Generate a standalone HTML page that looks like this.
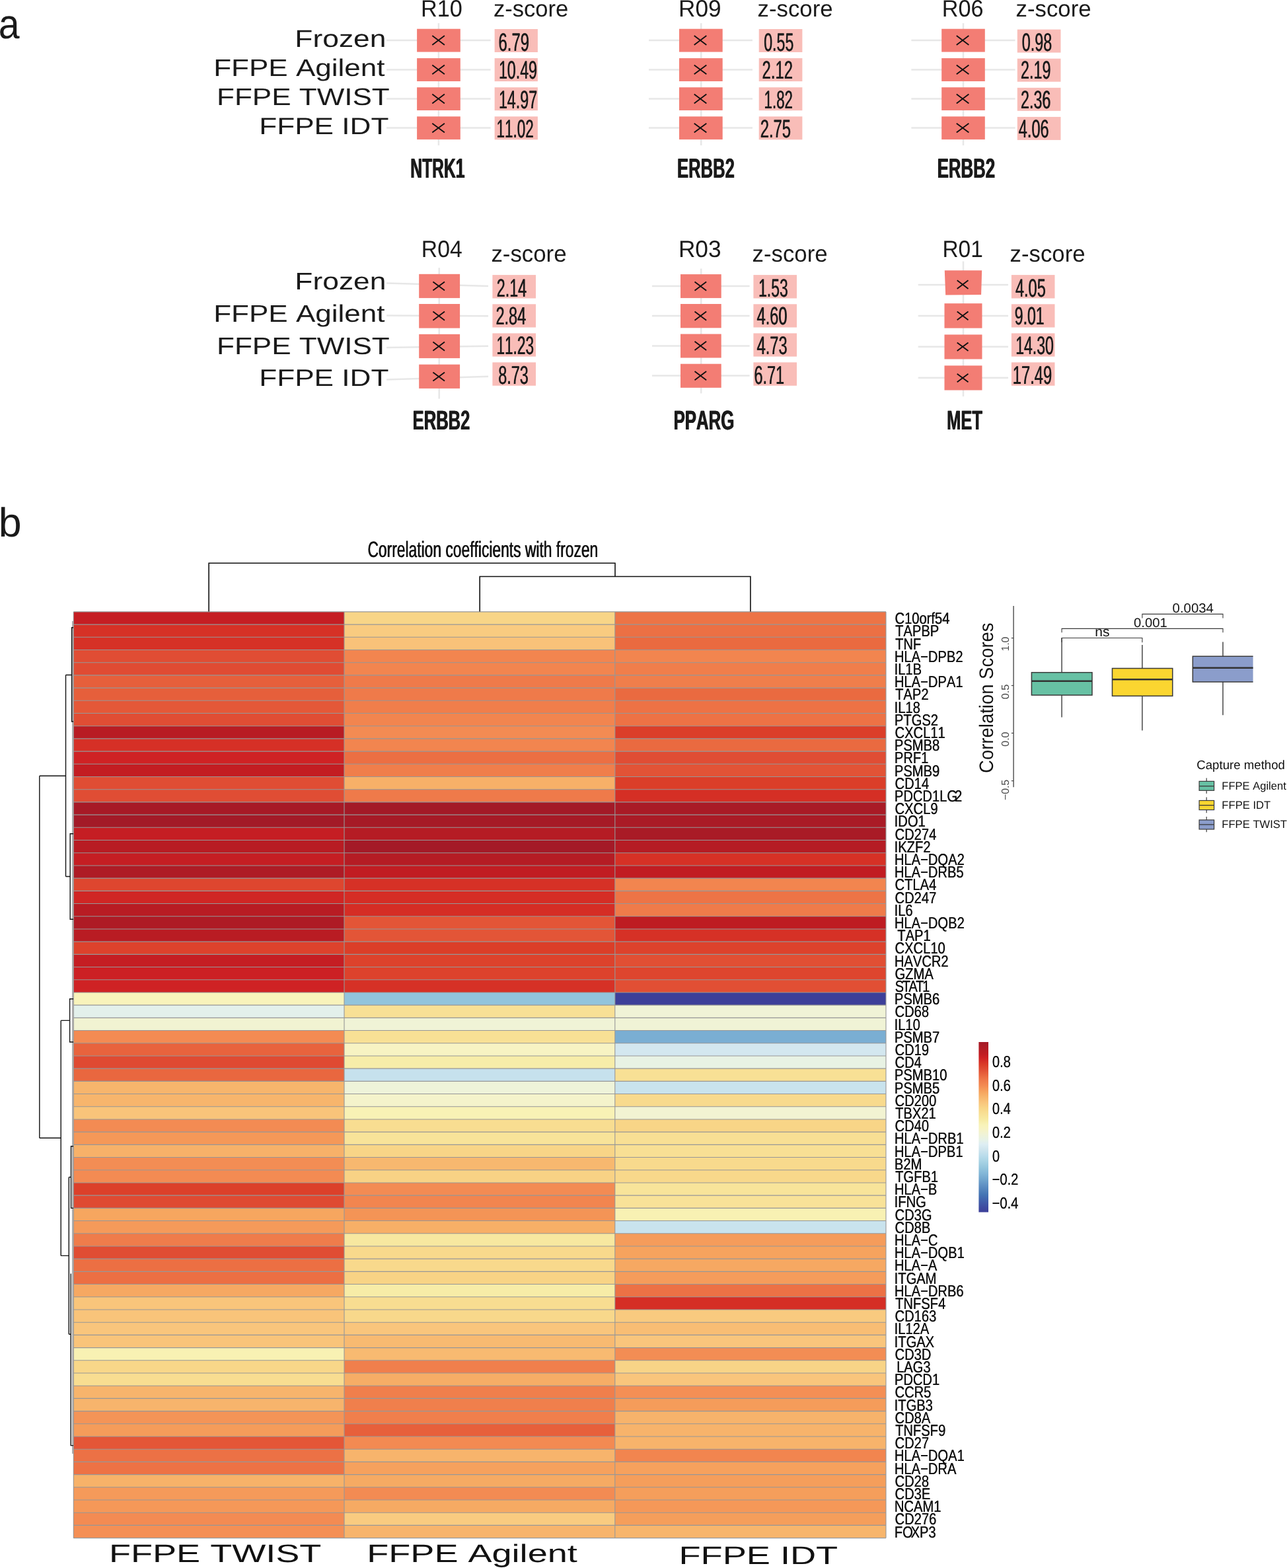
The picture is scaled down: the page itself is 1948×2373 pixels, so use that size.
<!DOCTYPE html>
<html lang="en">
<head>
<meta charset="utf-8">
<title>Figure: z-scores and correlation coefficients with frozen</title>
<style>
html,body{margin:0;padding:0;background:#fff;}
body{width:1948px;height:2373px;overflow:hidden;font-family:"Liberation Sans",Arial,sans-serif;}
svg{display:block;}
svg text{font-family:"Liberation Sans",Arial,sans-serif;font-kerning:none;font-variant-ligatures:none;text-rendering:geometricPrecision;}
</style>
</head>
<body>
<svg width="1948" height="2373" viewBox="0 0 1948 2373">
<rect x="0" y="0" width="1948" height="2373" fill="#ffffff"/>
<g id="panel-a">
<text transform="translate(-2.13,58.30) scale(0.5723,0.6263)" font-size="100" fill="#1a1a1a">a</text>
<text transform="translate(446.36,71.10) scale(0.4438,0.3663)" font-size="100" fill="#1a1a1a">Frozen</text>
<text transform="translate(323.19,114.70) scale(0.4402,0.3648)" font-size="100" fill="#1a1a1a">FFPE Agilent</text>
<text transform="translate(327.99,159.30) scale(0.4403,0.3648)" font-size="100" fill="#1a1a1a">FFPE TWIST</text>
<text transform="translate(392.28,202.80) scale(0.4411,0.3561)" font-size="100" fill="#1a1a1a">FFPE IDT</text>
<text transform="translate(446.36,438.40) scale(0.4438,0.3619)" font-size="100" fill="#1a1a1a">Frozen</text>
<text transform="translate(323.19,487.30) scale(0.4402,0.3648)" font-size="100" fill="#1a1a1a">FFPE Agilent</text>
<text transform="translate(327.99,535.60) scale(0.4403,0.3634)" font-size="100" fill="#1a1a1a">FFPE TWIST</text>
<text transform="translate(392.28,584.00) scale(0.4411,0.3590)" font-size="100" fill="#1a1a1a">FFPE IDT</text>
<line x1="585.1" y1="61.0" x2="742.6" y2="61.0" stroke="#e7e7e7" stroke-width="2.5"/>
<line x1="585.1" y1="105.4" x2="742.6" y2="105.4" stroke="#e7e7e7" stroke-width="2.5"/>
<line x1="585.1" y1="149.5" x2="742.6" y2="149.5" stroke="#e7e7e7" stroke-width="2.5"/>
<line x1="585.1" y1="193.6" x2="742.6" y2="193.6" stroke="#e7e7e7" stroke-width="2.5"/>
<line x1="663.9" y1="35.1" x2="663.9" y2="220.0" stroke="#e7e7e7" stroke-width="2.5"/>
<rect x="631.1" y="43.7" width="65.7" height="34.9" fill="#f37d74"/>
<rect x="631.1" y="88.1" width="65.7" height="34.9" fill="#f37d74"/>
<rect x="631.1" y="132.2" width="65.7" height="34.8" fill="#f37d74"/>
<rect x="631.1" y="176.3" width="65.7" height="34.8" fill="#f37d74"/>
<path d="M654.3 54.1L672.9 67.9M654.3 67.9L672.9 54.1" stroke="#111" stroke-width="1.9" fill="none"/>
<path d="M654.3 98.5L672.9 112.3M654.3 112.3L672.9 98.5" stroke="#111" stroke-width="1.9" fill="none"/>
<path d="M654.3 142.6L672.9 156.4M654.3 156.4L672.9 142.6" stroke="#111" stroke-width="1.9" fill="none"/>
<path d="M654.3 186.7L672.9 200.5M654.3 200.5L672.9 186.7" stroke="#111" stroke-width="1.9" fill="none"/>
<rect x="748.6" y="44.0" width="65.3" height="35.0" fill="#f9bdb8"/>
<text id="t1" transform="translate(754.29,77.10) scale(0.2383,0.3838)" font-size="100" fill="#1c1c1c">6.79</text><use href="#t1" x="0.55"/>
<rect x="748.6" y="88.1" width="65.3" height="35.0" fill="#f9bdb8"/>
<text id="t2" transform="translate(754.63,118.80) scale(0.2322,0.3838)" font-size="100" fill="#1c1c1c">10.49</text><use href="#t2" x="0.55"/>
<rect x="748.6" y="132.2" width="65.3" height="35.0" fill="#f9bdb8"/>
<text id="t3" transform="translate(754.63,163.80) scale(0.2325,0.3838)" font-size="100" fill="#1c1c1c">14.97</text><use href="#t3" x="0.55"/>
<rect x="748.6" y="176.3" width="65.3" height="35.0" fill="#f9bdb8"/>
<text id="t4" transform="translate(751.19,207.80) scale(0.2245,0.3838)" font-size="100" fill="#1c1c1c">11.02</text><use href="#t4" x="0.55"/>
<text transform="translate(636.88,25.10) scale(0.3432,0.3576)" font-size="100" fill="#1a1a1a">R10</text>
<text transform="translate(746.90,25.10) scale(0.3457,0.3502)" font-size="100" fill="#1a1a1a">z-score</text>
<text id="t5" transform="translate(620.85,269.20) scale(0.2464,0.4186)" font-size="100" font-weight="bold" fill="#1a1a1a">NTRK1</text><use href="#t5" x="0.90"/>
<line x1="982.0" y1="61.0" x2="1139.0" y2="61.0" stroke="#e7e7e7" stroke-width="2.5"/>
<line x1="982.0" y1="105.4" x2="1139.0" y2="105.4" stroke="#e7e7e7" stroke-width="2.5"/>
<line x1="982.0" y1="149.5" x2="1139.0" y2="149.5" stroke="#e7e7e7" stroke-width="2.5"/>
<line x1="982.0" y1="193.6" x2="1139.0" y2="193.6" stroke="#e7e7e7" stroke-width="2.5"/>
<line x1="1061.2" y1="35.1" x2="1061.2" y2="220.0" stroke="#e7e7e7" stroke-width="2.5"/>
<rect x="1028.0" y="43.7" width="65.7" height="34.9" fill="#f37d74"/>
<rect x="1028.0" y="88.1" width="65.7" height="34.9" fill="#f37d74"/>
<rect x="1028.0" y="132.2" width="65.7" height="34.8" fill="#f37d74"/>
<rect x="1028.0" y="176.3" width="65.7" height="34.8" fill="#f37d74"/>
<path d="M1050.7 54.1L1069.3 67.9M1050.7 67.9L1069.3 54.1" stroke="#111" stroke-width="1.9" fill="none"/>
<path d="M1050.7 98.5L1069.3 112.3M1050.7 112.3L1069.3 98.5" stroke="#111" stroke-width="1.9" fill="none"/>
<path d="M1050.7 142.6L1069.3 156.4M1050.7 156.4L1069.3 142.6" stroke="#111" stroke-width="1.9" fill="none"/>
<path d="M1050.7 186.7L1069.3 200.5M1050.7 200.5L1069.3 186.7" stroke="#111" stroke-width="1.9" fill="none"/>
<rect x="1148.7" y="44.0" width="65.7" height="35.0" fill="#f9bdb8"/>
<text id="t6" transform="translate(1155.89,77.10) scale(0.2319,0.3838)" font-size="100" fill="#1c1c1c">0.55</text><use href="#t6" x="0.55"/>
<rect x="1148.7" y="88.1" width="65.7" height="35.0" fill="#f9bdb8"/>
<text id="t7" transform="translate(1153.30,118.80) scale(0.2387,0.3838)" font-size="100" fill="#1c1c1c">2.12</text><use href="#t7" x="0.55"/>
<rect x="1148.7" y="132.2" width="65.7" height="35.0" fill="#f9bdb8"/>
<text id="t8" transform="translate(1156.30,163.80) scale(0.2228,0.3838)" font-size="100" fill="#1c1c1c">1.82</text><use href="#t8" x="0.55"/>
<rect x="1148.7" y="176.3" width="65.7" height="35.0" fill="#f9bdb8"/>
<text id="t9" transform="translate(1150.40,207.80) scale(0.2381,0.3838)" font-size="100" fill="#1c1c1c">2.75</text><use href="#t9" x="0.55"/>
<text transform="translate(1027.11,25.10) scale(0.3519,0.3576)" font-size="100" fill="#1a1a1a">R09</text>
<text transform="translate(1146.59,25.10) scale(0.3476,0.3502)" font-size="100" fill="#1a1a1a">z-score</text>
<text id="t10" transform="translate(1024.59,269.20) scale(0.2562,0.4186)" font-size="100" font-weight="bold" fill="#1a1a1a">ERBB2</text><use href="#t10" x="0.90"/>
<line x1="1379.4" y1="61.0" x2="1536.6" y2="61.0" stroke="#e7e7e7" stroke-width="2.5"/>
<line x1="1379.4" y1="105.4" x2="1536.6" y2="105.4" stroke="#e7e7e7" stroke-width="2.5"/>
<line x1="1379.4" y1="149.5" x2="1536.6" y2="149.5" stroke="#e7e7e7" stroke-width="2.5"/>
<line x1="1379.4" y1="193.6" x2="1536.6" y2="193.6" stroke="#e7e7e7" stroke-width="2.5"/>
<line x1="1458.0" y1="35.1" x2="1458.0" y2="220.0" stroke="#e7e7e7" stroke-width="2.5"/>
<rect x="1425.2" y="43.7" width="65.6" height="34.9" fill="#f37d74"/>
<rect x="1425.2" y="88.1" width="65.6" height="34.9" fill="#f37d74"/>
<rect x="1425.2" y="132.2" width="65.6" height="34.8" fill="#f37d74"/>
<rect x="1425.2" y="176.3" width="65.6" height="34.8" fill="#f37d74"/>
<path d="M1447.8 54.1L1466.4 67.9M1447.8 67.9L1466.4 54.1" stroke="#111" stroke-width="1.9" fill="none"/>
<path d="M1447.8 98.5L1466.4 112.3M1447.8 112.3L1466.4 98.5" stroke="#111" stroke-width="1.9" fill="none"/>
<path d="M1447.8 142.6L1466.4 156.4M1447.8 156.4L1466.4 142.6" stroke="#111" stroke-width="1.9" fill="none"/>
<path d="M1447.8 186.7L1466.4 200.5M1447.8 200.5L1466.4 186.7" stroke="#111" stroke-width="1.9" fill="none"/>
<rect x="1539.8" y="44.6" width="65.7" height="35.0" fill="#f9bdb8"/>
<text id="t11" transform="translate(1546.39,77.10) scale(0.2337,0.3838)" font-size="100" fill="#1c1c1c">0.98</text><use href="#t11" x="0.55"/>
<rect x="1539.8" y="88.7" width="65.7" height="35.0" fill="#f9bdb8"/>
<text id="t12" transform="translate(1544.73,118.80) scale(0.2334,0.3838)" font-size="100" fill="#1c1c1c">2.19</text><use href="#t12" x="0.55"/>
<rect x="1539.8" y="132.8" width="65.7" height="35.0" fill="#f9bdb8"/>
<text id="t13" transform="translate(1544.73,163.80) scale(0.2330,0.3838)" font-size="100" fill="#1c1c1c">2.36</text><use href="#t13" x="0.55"/>
<rect x="1539.8" y="176.9" width="65.7" height="35.0" fill="#f9bdb8"/>
<text id="t14" transform="translate(1541.56,207.80) scale(0.2349,0.3838)" font-size="100" fill="#1c1c1c">4.06</text><use href="#t14" x="0.55"/>
<text transform="translate(1425.69,25.10) scale(0.3424,0.3576)" font-size="100" fill="#1a1a1a">R06</text>
<text transform="translate(1537.59,25.10) scale(0.3476,0.3502)" font-size="100" fill="#1a1a1a">z-score</text>
<text id="t15" transform="translate(1418.28,269.20) scale(0.2577,0.4186)" font-size="100" font-weight="bold" fill="#1a1a1a">ERBB2</text><use href="#t15" x="0.90"/>
<line x1="585.1" y1="428.5" x2="739.0" y2="433.0" stroke="#e7e7e7" stroke-width="2.5"/>
<line x1="585.1" y1="477.4" x2="739.0" y2="478.2" stroke="#e7e7e7" stroke-width="2.5"/>
<line x1="585.1" y1="526.1" x2="739.0" y2="523.7" stroke="#e7e7e7" stroke-width="2.5"/>
<line x1="585.1" y1="574.5" x2="739.0" y2="569.8" stroke="#e7e7e7" stroke-width="2.5"/>
<line x1="664.7" y1="405.3" x2="664.7" y2="603.5" stroke="#e7e7e7" stroke-width="2.5"/>
<rect x="634.2" y="414.8" width="61.9" height="36.3" fill="#f37d74"/>
<rect x="634.2" y="460.0" width="61.9" height="36.6" fill="#f37d74"/>
<rect x="634.2" y="505.8" width="61.9" height="36.3" fill="#f37d74"/>
<rect x="634.2" y="551.6" width="61.9" height="36.3" fill="#f37d74"/>
<path d="M655.4 426.4L673.0 439.6M655.4 439.6L673.0 426.4" stroke="#111" stroke-width="1.9" fill="none"/>
<path d="M655.4 471.6L673.0 484.8M655.4 484.8L673.0 471.6" stroke="#111" stroke-width="1.9" fill="none"/>
<path d="M655.4 517.6L673.0 530.8M655.4 530.8L673.0 517.6" stroke="#111" stroke-width="1.9" fill="none"/>
<path d="M655.4 563.4L673.0 576.6M655.4 576.6L673.0 563.4" stroke="#111" stroke-width="1.9" fill="none"/>
<rect x="745.4" y="416.1" width="65.6" height="35.4" fill="#f9bdb8"/>
<text id="t16" transform="translate(751.43,449.40) scale(0.2333,0.3838)" font-size="100" fill="#1c1c1c">2.14</text><use href="#t16" x="0.55"/>
<rect x="745.4" y="460.3" width="65.6" height="35.2" fill="#f9bdb8"/>
<text id="t17" transform="translate(750.22,490.80) scale(0.2349,0.3795)" font-size="100" fill="#1c1c1c">2.84</text><use href="#t17" x="0.55"/>
<rect x="745.4" y="504.4" width="65.6" height="35.2" fill="#f9bdb8"/>
<text id="t18" transform="translate(751.18,536.30) scale(0.2260,0.3867)" font-size="100" fill="#1c1c1c">11.23</text><use href="#t18" x="0.55"/>
<rect x="745.4" y="548.4" width="65.6" height="35.3" fill="#f9bdb8"/>
<text id="t19" transform="translate(753.88,580.60) scale(0.2343,0.3895)" font-size="100" fill="#1c1c1c">8.73</text><use href="#t19" x="0.55"/>
<text transform="translate(637.83,388.90) scale(0.3372,0.3561)" font-size="100" fill="#1a1a1a">R04</text>
<text transform="translate(743.39,396.10) scale(0.3482,0.3521)" font-size="100" fill="#1a1a1a">z-score</text>
<text id="t20" transform="translate(624.19,650.40) scale(0.2559,0.4099)" font-size="100" font-weight="bold" fill="#1a1a1a">ERBB2</text><use href="#t20" x="0.90"/>
<line x1="986.9" y1="433.0" x2="1134.6" y2="433.0" stroke="#e7e7e7" stroke-width="2.5"/>
<line x1="986.9" y1="477.9" x2="1134.6" y2="477.9" stroke="#e7e7e7" stroke-width="2.5"/>
<line x1="986.9" y1="523.4" x2="1134.6" y2="523.4" stroke="#e7e7e7" stroke-width="2.5"/>
<line x1="986.9" y1="568.6" x2="1134.6" y2="568.6" stroke="#e7e7e7" stroke-width="2.5"/>
<line x1="1061.2" y1="406.5" x2="1061.2" y2="595.4" stroke="#e7e7e7" stroke-width="2.5"/>
<rect x="1030.0" y="415.1" width="61.7" height="36.0" fill="#f37d74"/>
<rect x="1030.0" y="460.0" width="61.7" height="36.3" fill="#f37d74"/>
<rect x="1030.0" y="505.5" width="61.7" height="36.0" fill="#f37d74"/>
<rect x="1030.0" y="550.7" width="61.7" height="36.1" fill="#f37d74"/>
<path d="M1051.5 426.6L1069.1 439.8M1051.5 439.8L1069.1 426.6" stroke="#111" stroke-width="1.9" fill="none"/>
<path d="M1051.5 471.6L1069.1 484.8M1051.5 484.8L1069.1 471.6" stroke="#111" stroke-width="1.9" fill="none"/>
<path d="M1051.5 516.8L1069.1 530.0M1051.5 530.0L1069.1 516.8" stroke="#111" stroke-width="1.9" fill="none"/>
<path d="M1051.5 562.0L1069.1 575.2M1051.5 575.2L1069.1 562.0" stroke="#111" stroke-width="1.9" fill="none"/>
<rect x="1140.4" y="416.1" width="65.6" height="35.4" fill="#f9bdb8"/>
<text id="t21" transform="translate(1147.86,449.40) scale(0.2286,0.3838)" font-size="100" fill="#1c1c1c">1.53</text><use href="#t21" x="0.55"/>
<rect x="1140.4" y="460.3" width="65.6" height="35.2" fill="#f9bdb8"/>
<text id="t22" transform="translate(1145.36,490.80) scale(0.2354,0.3795)" font-size="100" fill="#1c1c1c">4.60</text><use href="#t22" x="0.55"/>
<rect x="1140.4" y="504.4" width="65.6" height="35.2" fill="#f9bdb8"/>
<text id="t23" transform="translate(1145.36,536.30) scale(0.2360,0.3867)" font-size="100" fill="#1c1c1c">4.73</text><use href="#t23" x="0.55"/>
<rect x="1140.4" y="548.4" width="65.6" height="35.3" fill="#f9bdb8"/>
<text id="t24" transform="translate(1141.21,580.60) scale(0.2342,0.3895)" font-size="100" fill="#1c1c1c">6.71</text><use href="#t24" x="0.55"/>
<text transform="translate(1026.91,388.90) scale(0.3524,0.3561)" font-size="100" fill="#1a1a1a">R03</text>
<text transform="translate(1138.59,396.10) scale(0.3476,0.3521)" font-size="100" fill="#1a1a1a">z-score</text>
<text id="t25" transform="translate(1019.18,650.40) scale(0.2576,0.4099)" font-size="100" font-weight="bold" fill="#1a1a1a">PPARG</text><use href="#t25" x="0.90"/>
<line x1="1389.7" y1="430.9" x2="1526.0" y2="430.9" stroke="#e7e7e7" stroke-width="2.5"/>
<line x1="1389.7" y1="477.9" x2="1526.0" y2="477.9" stroke="#e7e7e7" stroke-width="2.5"/>
<line x1="1389.7" y1="524.8" x2="1526.0" y2="524.8" stroke="#e7e7e7" stroke-width="2.5"/>
<line x1="1389.7" y1="571.8" x2="1526.0" y2="571.8" stroke="#e7e7e7" stroke-width="2.5"/>
<line x1="1458.0" y1="395.5" x2="1458.0" y2="600.0" stroke="#e7e7e7" stroke-width="2.5"/>
<polygon points="1429.8,409.3 1486.2,409.3 1485.1,445.9 1431.2,446.5" fill="#f37d74"/>
<rect x="1429.5" y="459.2" width="57.0" height="37.4" fill="#f37d74"/>
<rect x="1429.5" y="506.4" width="57.0" height="37.1" fill="#f37d74"/>
<rect x="1429.5" y="553.3" width="57.0" height="37.2" fill="#f37d74"/>
<path d="M1448.7 424.3L1465.5 436.9M1448.7 436.9L1465.5 424.3" stroke="#111" stroke-width="1.9" fill="none"/>
<path d="M1448.7 471.6L1465.5 484.2M1448.7 484.2L1465.5 471.6" stroke="#111" stroke-width="1.9" fill="none"/>
<path d="M1448.7 518.5L1465.5 531.1M1448.7 531.1L1465.5 518.5" stroke="#111" stroke-width="1.9" fill="none"/>
<path d="M1448.7 565.7L1465.5 578.3M1448.7 578.3L1465.5 565.7" stroke="#111" stroke-width="1.9" fill="none"/>
<rect x="1530.9" y="416.1" width="65.6" height="35.4" fill="#f9bdb8"/>
<text id="t26" transform="translate(1536.66,449.40) scale(0.2357,0.3838)" font-size="100" fill="#1c1c1c">4.05</text><use href="#t26" x="0.55"/>
<rect x="1530.9" y="460.3" width="65.6" height="35.2" fill="#f9bdb8"/>
<text id="t27" transform="translate(1535.52,490.80) scale(0.2305,0.3795)" font-size="100" fill="#1c1c1c">9.01</text><use href="#t27" x="0.55"/>
<rect x="1530.9" y="504.4" width="65.6" height="35.2" fill="#f9bdb8"/>
<text id="t28" transform="translate(1536.95,536.30) scale(0.2302,0.3867)" font-size="100" fill="#1c1c1c">14.30</text><use href="#t28" x="0.55"/>
<rect x="1530.9" y="548.4" width="65.6" height="35.3" fill="#f9bdb8"/>
<text id="t29" transform="translate(1532.49,580.60) scale(0.2377,0.3895)" font-size="100" fill="#1c1c1c">17.49</text><use href="#t29" x="0.55"/>
<text transform="translate(1426.46,388.90) scale(0.3346,0.3561)" font-size="100" fill="#1a1a1a">R01</text>
<text transform="translate(1528.59,396.10) scale(0.3476,0.3521)" font-size="100" fill="#1a1a1a">z-score</text>
<text id="t30" transform="translate(1432.70,650.40) scale(0.2548,0.4099)" font-size="100" font-weight="bold" fill="#1a1a1a">MET</text><use href="#t30" x="0.90"/>
</g>
<g id="panel-b">
<text transform="translate(-2.24,811.90) scale(0.6271,0.6169)" font-size="100" fill="#1a1a1a">b</text>
<g id="heatmap" shape-rendering="crispEdges">
<rect x="111.3" y="925.90" width="409.7" height="19.25" fill="#c51e23"/>
<rect x="521.0" y="925.90" width="409.8" height="19.25" fill="#f8d587"/>
<rect x="930.8" y="925.90" width="410.2" height="19.25" fill="#ed7446"/>
<rect x="111.3" y="945.10" width="409.7" height="19.25" fill="#d63126"/>
<rect x="521.0" y="945.10" width="409.8" height="19.25" fill="#f9cb80"/>
<rect x="930.8" y="945.10" width="410.2" height="19.25" fill="#ec7044"/>
<rect x="111.3" y="964.30" width="409.7" height="19.25" fill="#d63126"/>
<rect x="521.0" y="964.30" width="409.8" height="19.25" fill="#f9c279"/>
<rect x="930.8" y="964.30" width="410.2" height="19.25" fill="#ea6a40"/>
<rect x="111.3" y="983.50" width="409.7" height="19.25" fill="#e04d34"/>
<rect x="521.0" y="983.50" width="409.8" height="19.25" fill="#f2854f"/>
<rect x="930.8" y="983.50" width="410.2" height="19.25" fill="#f2854f"/>
<rect x="111.3" y="1002.71" width="409.7" height="19.25" fill="#e04b33"/>
<rect x="521.0" y="1002.71" width="409.8" height="19.25" fill="#f2854f"/>
<rect x="930.8" y="1002.71" width="410.2" height="19.25" fill="#f07e4b"/>
<rect x="111.3" y="1021.91" width="409.7" height="19.25" fill="#e65f3b"/>
<rect x="521.0" y="1021.91" width="409.8" height="19.25" fill="#ef7a4a"/>
<rect x="930.8" y="1021.91" width="410.2" height="19.25" fill="#f07e4b"/>
<rect x="111.3" y="1041.11" width="409.7" height="19.25" fill="#e65f3b"/>
<rect x="521.0" y="1041.11" width="409.8" height="19.25" fill="#ef7a4a"/>
<rect x="930.8" y="1041.11" width="410.2" height="19.25" fill="#ea6a40"/>
<rect x="111.3" y="1060.31" width="409.7" height="19.25" fill="#e45838"/>
<rect x="521.0" y="1060.31" width="409.8" height="19.25" fill="#f07e4b"/>
<rect x="930.8" y="1060.31" width="410.2" height="19.25" fill="#ed7245"/>
<rect x="111.3" y="1079.51" width="409.7" height="19.25" fill="#e04d34"/>
<rect x="521.0" y="1079.51" width="409.8" height="19.25" fill="#f2854f"/>
<rect x="930.8" y="1079.51" width="410.2" height="19.25" fill="#ed7245"/>
<rect x="111.3" y="1098.71" width="409.7" height="19.25" fill="#b81c23"/>
<rect x="521.0" y="1098.71" width="409.8" height="19.25" fill="#f38b53"/>
<rect x="930.8" y="1098.71" width="410.2" height="19.25" fill="#db3e29"/>
<rect x="111.3" y="1117.91" width="409.7" height="19.25" fill="#d63026"/>
<rect x="521.0" y="1117.91" width="409.8" height="19.25" fill="#f2854f"/>
<rect x="930.8" y="1117.91" width="410.2" height="19.25" fill="#ea6a40"/>
<rect x="111.3" y="1137.12" width="409.7" height="19.25" fill="#cf2224"/>
<rect x="521.0" y="1137.12" width="409.8" height="19.25" fill="#ec6f43"/>
<rect x="930.8" y="1137.12" width="410.2" height="19.25" fill="#e04d34"/>
<rect x="111.3" y="1156.32" width="409.7" height="19.25" fill="#c31d22"/>
<rect x="521.0" y="1156.32" width="409.8" height="19.25" fill="#f07e4b"/>
<rect x="930.8" y="1156.32" width="410.2" height="19.25" fill="#e25336"/>
<rect x="111.3" y="1175.52" width="409.7" height="19.25" fill="#e04d34"/>
<rect x="521.0" y="1175.52" width="409.8" height="19.25" fill="#f7b068"/>
<rect x="930.8" y="1175.52" width="410.2" height="19.25" fill="#db3e29"/>
<rect x="111.3" y="1194.72" width="409.7" height="19.25" fill="#e04d34"/>
<rect x="521.0" y="1194.72" width="409.8" height="19.25" fill="#ef7a4a"/>
<rect x="930.8" y="1194.72" width="410.2" height="19.25" fill="#d52f25"/>
<rect x="111.3" y="1213.92" width="409.7" height="19.25" fill="#a71a26"/>
<rect x="521.0" y="1213.92" width="409.8" height="19.25" fill="#a31a27"/>
<rect x="930.8" y="1213.92" width="410.2" height="19.25" fill="#a91b26"/>
<rect x="111.3" y="1233.12" width="409.7" height="19.25" fill="#a31a27"/>
<rect x="521.0" y="1233.12" width="409.8" height="19.25" fill="#a61a26"/>
<rect x="930.8" y="1233.12" width="410.2" height="19.25" fill="#aa1b26"/>
<rect x="111.3" y="1252.32" width="409.7" height="19.25" fill="#c51e23"/>
<rect x="521.0" y="1252.32" width="409.8" height="19.25" fill="#b51c24"/>
<rect x="930.8" y="1252.32" width="410.2" height="19.25" fill="#a91b26"/>
<rect x="111.3" y="1271.53" width="409.7" height="19.25" fill="#b81c23"/>
<rect x="521.0" y="1271.53" width="409.8" height="19.25" fill="#a41a27"/>
<rect x="930.8" y="1271.53" width="410.2" height="19.25" fill="#b51c24"/>
<rect x="111.3" y="1290.73" width="409.7" height="19.25" fill="#c51e23"/>
<rect x="521.0" y="1290.73" width="409.8" height="19.25" fill="#b51c24"/>
<rect x="930.8" y="1290.73" width="410.2" height="19.25" fill="#d63126"/>
<rect x="111.3" y="1309.93" width="409.7" height="19.25" fill="#ae1b25"/>
<rect x="521.0" y="1309.93" width="409.8" height="19.25" fill="#c11c22"/>
<rect x="930.8" y="1309.93" width="410.2" height="19.25" fill="#c11c22"/>
<rect x="111.3" y="1329.13" width="409.7" height="19.25" fill="#de462f"/>
<rect x="521.0" y="1329.13" width="409.8" height="19.25" fill="#d63126"/>
<rect x="930.8" y="1329.13" width="410.2" height="19.25" fill="#f2854f"/>
<rect x="111.3" y="1348.33" width="409.7" height="19.25" fill="#d02624"/>
<rect x="521.0" y="1348.33" width="409.8" height="19.25" fill="#d52d25"/>
<rect x="930.8" y="1348.33" width="410.2" height="19.25" fill="#ed7446"/>
<rect x="111.3" y="1367.53" width="409.7" height="19.25" fill="#b81c23"/>
<rect x="521.0" y="1367.53" width="409.8" height="19.25" fill="#d52d25"/>
<rect x="930.8" y="1367.53" width="410.2" height="19.25" fill="#ef7b4a"/>
<rect x="111.3" y="1386.73" width="409.7" height="19.25" fill="#ae1b25"/>
<rect x="521.0" y="1386.73" width="409.8" height="19.25" fill="#e35537"/>
<rect x="930.8" y="1386.73" width="410.2" height="19.25" fill="#be1c22"/>
<rect x="111.3" y="1405.93" width="409.7" height="19.25" fill="#b91c23"/>
<rect x="521.0" y="1405.93" width="409.8" height="19.25" fill="#e35537"/>
<rect x="930.8" y="1405.93" width="410.2" height="19.25" fill="#d63126"/>
<rect x="111.3" y="1425.14" width="409.7" height="19.25" fill="#dd422c"/>
<rect x="521.0" y="1425.14" width="409.8" height="19.25" fill="#db3e28"/>
<rect x="930.8" y="1425.14" width="410.2" height="19.25" fill="#dd422c"/>
<rect x="111.3" y="1444.34" width="409.7" height="19.25" fill="#c51e23"/>
<rect x="521.0" y="1444.34" width="409.8" height="19.25" fill="#dd422c"/>
<rect x="930.8" y="1444.34" width="410.2" height="19.25" fill="#e14f34"/>
<rect x="111.3" y="1463.54" width="409.7" height="19.25" fill="#cc2024"/>
<rect x="521.0" y="1463.54" width="409.8" height="19.25" fill="#dd422c"/>
<rect x="930.8" y="1463.54" width="410.2" height="19.25" fill="#de452e"/>
<rect x="111.3" y="1482.74" width="409.7" height="19.25" fill="#cf2224"/>
<rect x="521.0" y="1482.74" width="409.8" height="19.25" fill="#d63126"/>
<rect x="930.8" y="1482.74" width="410.2" height="19.25" fill="#e14f34"/>
<rect x="111.3" y="1501.94" width="409.7" height="19.25" fill="#f8f3bb"/>
<rect x="521.0" y="1501.94" width="409.8" height="19.25" fill="#92c4dc"/>
<rect x="930.8" y="1501.94" width="410.2" height="19.25" fill="#3d3f99"/>
<rect x="111.3" y="1521.14" width="409.7" height="19.25" fill="#e3f0eb"/>
<rect x="521.0" y="1521.14" width="409.8" height="19.25" fill="#f8e095"/>
<rect x="930.8" y="1521.14" width="410.2" height="19.25" fill="#f0f3d6"/>
<rect x="111.3" y="1540.34" width="409.7" height="19.25" fill="#f1f3d2"/>
<rect x="521.0" y="1540.34" width="409.8" height="19.25" fill="#f0f3d6"/>
<rect x="930.8" y="1540.34" width="410.2" height="19.25" fill="#f0f3d6"/>
<rect x="111.3" y="1559.55" width="409.7" height="19.25" fill="#f38b53"/>
<rect x="521.0" y="1559.55" width="409.8" height="19.25" fill="#f8e095"/>
<rect x="930.8" y="1559.55" width="410.2" height="19.25" fill="#7aaed3"/>
<rect x="111.3" y="1578.75" width="409.7" height="19.25" fill="#e8633d"/>
<rect x="521.0" y="1578.75" width="409.8" height="19.25" fill="#f7f3c3"/>
<rect x="930.8" y="1578.75" width="410.2" height="19.25" fill="#d3e7ef"/>
<rect x="111.3" y="1597.95" width="409.7" height="19.25" fill="#df4a32"/>
<rect x="521.0" y="1597.95" width="409.8" height="19.25" fill="#f7eda9"/>
<rect x="930.8" y="1597.95" width="410.2" height="19.25" fill="#e8f2e4"/>
<rect x="111.3" y="1617.15" width="409.7" height="19.25" fill="#e9673f"/>
<rect x="521.0" y="1617.15" width="409.8" height="19.25" fill="#c6e1ed"/>
<rect x="930.8" y="1617.15" width="410.2" height="19.25" fill="#f8e095"/>
<rect x="111.3" y="1636.35" width="409.7" height="19.25" fill="#f7b56c"/>
<rect x="521.0" y="1636.35" width="409.8" height="19.25" fill="#eef3d9"/>
<rect x="930.8" y="1636.35" width="410.2" height="19.25" fill="#c9e3ed"/>
<rect x="111.3" y="1655.55" width="409.7" height="19.25" fill="#f7b56c"/>
<rect x="521.0" y="1655.55" width="409.8" height="19.25" fill="#f4f3cb"/>
<rect x="930.8" y="1655.55" width="410.2" height="19.25" fill="#f8da8d"/>
<rect x="111.3" y="1674.75" width="409.7" height="19.25" fill="#f9c47a"/>
<rect x="521.0" y="1674.75" width="409.8" height="19.25" fill="#f8f2b5"/>
<rect x="930.8" y="1674.75" width="410.2" height="19.25" fill="#f2f3d2"/>
<rect x="111.3" y="1693.96" width="409.7" height="19.25" fill="#f38b53"/>
<rect x="521.0" y="1693.96" width="409.8" height="19.25" fill="#f8dd91"/>
<rect x="930.8" y="1693.96" width="410.2" height="19.25" fill="#f8d587"/>
<rect x="111.3" y="1713.16" width="409.7" height="19.25" fill="#f59858"/>
<rect x="521.0" y="1713.16" width="409.8" height="19.25" fill="#f8e399"/>
<rect x="930.8" y="1713.16" width="410.2" height="19.25" fill="#f8df94"/>
<rect x="111.3" y="1732.36" width="409.7" height="19.25" fill="#f7b169"/>
<rect x="521.0" y="1732.36" width="409.8" height="19.25" fill="#f8d587"/>
<rect x="930.8" y="1732.36" width="410.2" height="19.25" fill="#f8df94"/>
<rect x="111.3" y="1751.56" width="409.7" height="19.25" fill="#f38d54"/>
<rect x="521.0" y="1751.56" width="409.8" height="19.25" fill="#f7b86f"/>
<rect x="930.8" y="1751.56" width="410.2" height="19.25" fill="#f8da8d"/>
<rect x="111.3" y="1770.76" width="409.7" height="19.25" fill="#f38b53"/>
<rect x="521.0" y="1770.76" width="409.8" height="19.25" fill="#f8d285"/>
<rect x="930.8" y="1770.76" width="410.2" height="19.25" fill="#f8d88b"/>
<rect x="111.3" y="1789.96" width="409.7" height="19.25" fill="#dc402a"/>
<rect x="521.0" y="1789.96" width="409.8" height="19.25" fill="#f38b53"/>
<rect x="930.8" y="1789.96" width="410.2" height="19.25" fill="#f8e49a"/>
<rect x="111.3" y="1809.16" width="409.7" height="19.25" fill="#df4a32"/>
<rect x="521.0" y="1809.16" width="409.8" height="19.25" fill="#f2854f"/>
<rect x="930.8" y="1809.16" width="410.2" height="19.25" fill="#f8e298"/>
<rect x="111.3" y="1828.37" width="409.7" height="19.25" fill="#f6a65f"/>
<rect x="521.0" y="1828.37" width="409.8" height="19.25" fill="#f49456"/>
<rect x="930.8" y="1828.37" width="410.2" height="19.25" fill="#f8f1b3"/>
<rect x="111.3" y="1847.57" width="409.7" height="19.25" fill="#f59a5a"/>
<rect x="521.0" y="1847.57" width="409.8" height="19.25" fill="#f7af67"/>
<rect x="930.8" y="1847.57" width="410.2" height="19.25" fill="#c9e3ed"/>
<rect x="111.3" y="1866.77" width="409.7" height="19.25" fill="#ef7c4b"/>
<rect x="521.0" y="1866.77" width="409.8" height="19.25" fill="#f7e8a0"/>
<rect x="930.8" y="1866.77" width="410.2" height="19.25" fill="#f59c5b"/>
<rect x="111.3" y="1885.97" width="409.7" height="19.25" fill="#e04d33"/>
<rect x="521.0" y="1885.97" width="409.8" height="19.25" fill="#f8d98c"/>
<rect x="930.8" y="1885.97" width="410.2" height="19.25" fill="#f6a35e"/>
<rect x="111.3" y="1905.17" width="409.7" height="19.25" fill="#ec6f43"/>
<rect x="521.0" y="1905.17" width="409.8" height="19.25" fill="#f8d98c"/>
<rect x="930.8" y="1905.17" width="410.2" height="19.25" fill="#f6a862"/>
<rect x="111.3" y="1924.37" width="409.7" height="19.25" fill="#ec6f43"/>
<rect x="521.0" y="1924.37" width="409.8" height="19.25" fill="#f8d385"/>
<rect x="930.8" y="1924.37" width="410.2" height="19.25" fill="#f59c5b"/>
<rect x="111.3" y="1943.57" width="409.7" height="19.25" fill="#f6a862"/>
<rect x="521.0" y="1943.57" width="409.8" height="19.25" fill="#f7eca7"/>
<rect x="930.8" y="1943.57" width="410.2" height="19.25" fill="#ec7145"/>
<rect x="111.3" y="1962.78" width="409.7" height="19.25" fill="#f9c57b"/>
<rect x="521.0" y="1962.78" width="409.8" height="19.25" fill="#f8dd91"/>
<rect x="930.8" y="1962.78" width="410.2" height="19.25" fill="#d52e25"/>
<rect x="111.3" y="1981.98" width="409.7" height="19.25" fill="#f9c47a"/>
<rect x="521.0" y="1981.98" width="409.8" height="19.25" fill="#f8d88b"/>
<rect x="930.8" y="1981.98" width="410.2" height="19.25" fill="#f9ca7f"/>
<rect x="111.3" y="2001.18" width="409.7" height="19.25" fill="#f9c57c"/>
<rect x="521.0" y="2001.18" width="409.8" height="19.25" fill="#f9c57c"/>
<rect x="930.8" y="2001.18" width="410.2" height="19.25" fill="#f8bd74"/>
<rect x="111.3" y="2020.38" width="409.7" height="19.25" fill="#f9c47a"/>
<rect x="521.0" y="2020.38" width="409.8" height="19.25" fill="#f8ba71"/>
<rect x="930.8" y="2020.38" width="410.2" height="19.25" fill="#f9c57c"/>
<rect x="111.3" y="2039.58" width="409.7" height="19.25" fill="#f8f1b3"/>
<rect x="521.0" y="2039.58" width="409.8" height="19.25" fill="#f8ba71"/>
<rect x="930.8" y="2039.58" width="410.2" height="19.25" fill="#f38d54"/>
<rect x="111.3" y="2058.78" width="409.7" height="19.25" fill="#f8d789"/>
<rect x="521.0" y="2058.78" width="409.8" height="19.25" fill="#f07f4c"/>
<rect x="930.8" y="2058.78" width="410.2" height="19.25" fill="#f8d487"/>
<rect x="111.3" y="2077.98" width="409.7" height="19.25" fill="#f8dd91"/>
<rect x="521.0" y="2077.98" width="409.8" height="19.25" fill="#f6ad66"/>
<rect x="930.8" y="2077.98" width="410.2" height="19.25" fill="#f9c57c"/>
<rect x="111.3" y="2097.19" width="409.7" height="19.25" fill="#f7b46c"/>
<rect x="521.0" y="2097.19" width="409.8" height="19.25" fill="#f07f4c"/>
<rect x="930.8" y="2097.19" width="410.2" height="19.25" fill="#f48f55"/>
<rect x="111.3" y="2116.39" width="409.7" height="19.25" fill="#f7b46c"/>
<rect x="521.0" y="2116.39" width="409.8" height="19.25" fill="#f07f4c"/>
<rect x="930.8" y="2116.39" width="410.2" height="19.25" fill="#f59c5a"/>
<rect x="111.3" y="2135.59" width="409.7" height="19.25" fill="#f49457"/>
<rect x="521.0" y="2135.59" width="409.8" height="19.25" fill="#f07f4c"/>
<rect x="930.8" y="2135.59" width="410.2" height="19.25" fill="#f7b36b"/>
<rect x="111.3" y="2154.79" width="409.7" height="19.25" fill="#f59c5a"/>
<rect x="521.0" y="2154.79" width="409.8" height="19.25" fill="#e7603b"/>
<rect x="930.8" y="2154.79" width="410.2" height="19.25" fill="#f7b36b"/>
<rect x="111.3" y="2173.99" width="409.7" height="19.25" fill="#e45637"/>
<rect x="521.0" y="2173.99" width="409.8" height="19.25" fill="#f38a52"/>
<rect x="930.8" y="2173.99" width="410.2" height="19.25" fill="#f7b36b"/>
<rect x="111.3" y="2193.19" width="409.7" height="19.25" fill="#ec7145"/>
<rect x="521.0" y="2193.19" width="409.8" height="19.25" fill="#f7b46c"/>
<rect x="930.8" y="2193.19" width="410.2" height="19.25" fill="#f2854f"/>
<rect x="111.3" y="2212.39" width="409.7" height="19.25" fill="#ed7245"/>
<rect x="521.0" y="2212.39" width="409.8" height="19.25" fill="#f6a15d"/>
<rect x="930.8" y="2212.39" width="410.2" height="19.25" fill="#f6a15d"/>
<rect x="111.3" y="2231.60" width="409.7" height="19.25" fill="#f7b269"/>
<rect x="521.0" y="2231.60" width="409.8" height="19.25" fill="#f6aa63"/>
<rect x="930.8" y="2231.60" width="410.2" height="19.25" fill="#f59e5b"/>
<rect x="111.3" y="2250.80" width="409.7" height="19.25" fill="#f59a5a"/>
<rect x="521.0" y="2250.80" width="409.8" height="19.25" fill="#f38b53"/>
<rect x="930.8" y="2250.80" width="410.2" height="19.25" fill="#f59e5b"/>
<rect x="111.3" y="2270.00" width="409.7" height="19.25" fill="#f59858"/>
<rect x="521.0" y="2270.00" width="409.8" height="19.25" fill="#f6aa63"/>
<rect x="930.8" y="2270.00" width="410.2" height="19.25" fill="#f59858"/>
<rect x="111.3" y="2289.20" width="409.7" height="19.25" fill="#f38b53"/>
<rect x="521.0" y="2289.20" width="409.8" height="19.25" fill="#f9cb80"/>
<rect x="930.8" y="2289.20" width="410.2" height="19.25" fill="#f59e5b"/>
<rect x="111.3" y="2308.40" width="409.7" height="19.25" fill="#f48f55"/>
<rect x="521.0" y="2308.40" width="409.8" height="19.25" fill="#f7b46c"/>
<rect x="930.8" y="2308.40" width="410.2" height="19.25" fill="#f7b56c"/>
</g>
<path d="M111.3 925.90H1341.0M111.3 945.10H1341.0M111.3 964.30H1341.0M111.3 983.50H1341.0M111.3 1002.71H1341.0M111.3 1021.91H1341.0M111.3 1041.11H1341.0M111.3 1060.31H1341.0M111.3 1079.51H1341.0M111.3 1098.71H1341.0M111.3 1117.91H1341.0M111.3 1137.12H1341.0M111.3 1156.32H1341.0M111.3 1175.52H1341.0M111.3 1194.72H1341.0M111.3 1213.92H1341.0M111.3 1233.12H1341.0M111.3 1252.32H1341.0M111.3 1271.53H1341.0M111.3 1290.73H1341.0M111.3 1309.93H1341.0M111.3 1329.13H1341.0M111.3 1348.33H1341.0M111.3 1367.53H1341.0M111.3 1386.73H1341.0M111.3 1405.93H1341.0M111.3 1425.14H1341.0M111.3 1444.34H1341.0M111.3 1463.54H1341.0M111.3 1482.74H1341.0M111.3 1501.94H1341.0M111.3 1521.14H1341.0M111.3 1540.34H1341.0M111.3 1559.55H1341.0M111.3 1578.75H1341.0M111.3 1597.95H1341.0M111.3 1617.15H1341.0M111.3 1636.35H1341.0M111.3 1655.55H1341.0M111.3 1674.75H1341.0M111.3 1693.96H1341.0M111.3 1713.16H1341.0M111.3 1732.36H1341.0M111.3 1751.56H1341.0M111.3 1770.76H1341.0M111.3 1789.96H1341.0M111.3 1809.16H1341.0M111.3 1828.37H1341.0M111.3 1847.57H1341.0M111.3 1866.77H1341.0M111.3 1885.97H1341.0M111.3 1905.17H1341.0M111.3 1924.37H1341.0M111.3 1943.57H1341.0M111.3 1962.78H1341.0M111.3 1981.98H1341.0M111.3 2001.18H1341.0M111.3 2020.38H1341.0M111.3 2039.58H1341.0M111.3 2058.78H1341.0M111.3 2077.98H1341.0M111.3 2097.19H1341.0M111.3 2116.39H1341.0M111.3 2135.59H1341.0M111.3 2154.79H1341.0M111.3 2173.99H1341.0M111.3 2193.19H1341.0M111.3 2212.39H1341.0M111.3 2231.60H1341.0M111.3 2250.80H1341.0M111.3 2270.00H1341.0M111.3 2289.20H1341.0M111.3 2308.40H1341.0M111.3 2327.60H1341.0M111.3 925.90V2327.60M521.0 925.90V2327.60M930.8 925.90V2327.60M1341.0 925.90V2327.60" stroke="#979797" stroke-width="1.1" fill="none"/>
<text id="t31" transform="translate(1354.33,944.10) scale(0.2017,0.2430)" font-size="100" fill="#111">C10orf54</text><use href="#t31" x="0.30"/>
<text id="t32" transform="translate(1354.90,963.30) scale(0.2017,0.2430)" font-size="100" fill="#111">TAPBP</text><use href="#t32" x="0.30"/>
<text id="t33" transform="translate(1354.90,982.50) scale(0.2017,0.2430)" font-size="100" fill="#111">TNF</text><use href="#t33" x="0.30"/>
<text id="t34" transform="translate(1353.70,1001.70) scale(0.2017,0.2430)" font-size="100" fill="#111">HLA−DPB2</text><use href="#t34" x="0.30"/>
<text id="t35" transform="translate(1353.49,1020.91) scale(0.2017,0.2430)" font-size="100" fill="#111">IL1B</text><use href="#t35" x="0.30"/>
<text id="t36" transform="translate(1353.70,1040.11) scale(0.2017,0.2430)" font-size="100" fill="#111">HLA−DPA1</text><use href="#t36" x="0.30"/>
<text id="t37" transform="translate(1354.90,1059.31) scale(0.2017,0.2430)" font-size="100" fill="#111">TAP2</text><use href="#t37" x="0.30"/>
<text id="t38" transform="translate(1353.49,1078.51) scale(0.2017,0.2430)" font-size="100" fill="#111">IL18</text><use href="#t38" x="0.30"/>
<text id="t39" transform="translate(1353.70,1097.71) scale(0.2017,0.2430)" font-size="100" fill="#111">PTGS2</text><use href="#t39" x="0.30"/>
<text id="t40" transform="translate(1354.33,1116.91) scale(0.2017,0.2430)" font-size="100" fill="#111">CXCL11</text><use href="#t40" x="0.30"/>
<text id="t41" transform="translate(1353.70,1136.11) scale(0.2017,0.2430)" font-size="100" fill="#111">PSMB8</text><use href="#t41" x="0.30"/>
<text id="t42" transform="translate(1353.70,1155.32) scale(0.2017,0.2430)" font-size="100" fill="#111">PRF1</text><use href="#t42" x="0.30"/>
<text id="t43" transform="translate(1353.70,1174.52) scale(0.2017,0.2430)" font-size="100" fill="#111">PSMB9</text><use href="#t43" x="0.30"/>
<text id="t44" transform="translate(1354.33,1193.72) scale(0.2017,0.2430)" font-size="100" fill="#111">CD14</text><use href="#t44" x="0.30"/>
<text id="t45" transform="translate(1353.70,1212.92) scale(0.2017,0.2430)" font-size="100" dx="0 0 0 0 0 0 0 -20.5" fill="#111">PDCD1LG2</text><use href="#t45" x="0.30"/>
<text id="t46" transform="translate(1354.33,1232.12) scale(0.2017,0.2430)" font-size="100" fill="#111">CXCL9</text><use href="#t46" x="0.30"/>
<text id="t47" transform="translate(1353.49,1251.32) scale(0.2017,0.2430)" font-size="100" fill="#111">IDO1</text><use href="#t47" x="0.30"/>
<text id="t48" transform="translate(1354.33,1270.52) scale(0.2017,0.2430)" font-size="100" fill="#111">CD274</text><use href="#t48" x="0.30"/>
<text id="t49" transform="translate(1353.49,1289.73) scale(0.2017,0.2430)" font-size="100" fill="#111">IKZF2</text><use href="#t49" x="0.30"/>
<text id="t50" transform="translate(1353.70,1308.93) scale(0.2017,0.2430)" font-size="100" fill="#111">HLA−DQA2</text><use href="#t50" x="0.30"/>
<text id="t51" transform="translate(1353.70,1328.13) scale(0.2017,0.2430)" font-size="100" fill="#111">HLA−DRB5</text><use href="#t51" x="0.30"/>
<text id="t52" transform="translate(1354.33,1347.33) scale(0.2017,0.2430)" font-size="100" fill="#111">CTLA4</text><use href="#t52" x="0.30"/>
<text id="t53" transform="translate(1354.33,1366.53) scale(0.2017,0.2430)" font-size="100" fill="#111">CD247</text><use href="#t53" x="0.30"/>
<text id="t54" transform="translate(1353.49,1385.73) scale(0.2017,0.2430)" font-size="100" fill="#111">IL6</text><use href="#t54" x="0.30"/>
<text id="t55" transform="translate(1353.70,1404.93) scale(0.2017,0.2430)" font-size="100" fill="#111">HLA−DQB2</text><use href="#t55" x="0.30"/>
<text id="t56" transform="translate(1358.10,1424.13) scale(0.2017,0.2430)" font-size="100" fill="#111">TAP1</text><use href="#t56" x="0.30"/>
<text id="t57" transform="translate(1354.33,1443.34) scale(0.2017,0.2430)" font-size="100" fill="#111">CXCL10</text><use href="#t57" x="0.30"/>
<text id="t58" transform="translate(1353.70,1462.54) scale(0.2017,0.2430)" font-size="100" fill="#111">HAVCR2</text><use href="#t58" x="0.30"/>
<text id="t59" transform="translate(1354.34,1481.74) scale(0.2017,0.2430)" font-size="100" fill="#111">GZMA</text><use href="#t59" x="0.30"/>
<text id="t60" transform="translate(1354.43,1500.94) scale(0.2017,0.2430)" font-size="100" dx="0 -12 -13 -13 -12" fill="#111">STAT1</text><use href="#t60" x="0.30"/>
<text id="t61" transform="translate(1353.70,1520.14) scale(0.2017,0.2430)" font-size="100" fill="#111">PSMB6</text><use href="#t61" x="0.30"/>
<text id="t62" transform="translate(1354.33,1539.34) scale(0.2017,0.2430)" font-size="100" fill="#111">CD68</text><use href="#t62" x="0.30"/>
<text id="t63" transform="translate(1353.49,1558.54) scale(0.2017,0.2430)" font-size="100" fill="#111">IL10</text><use href="#t63" x="0.30"/>
<text id="t64" transform="translate(1353.70,1577.75) scale(0.2017,0.2430)" font-size="100" fill="#111">PSMB7</text><use href="#t64" x="0.30"/>
<text id="t65" transform="translate(1354.33,1596.95) scale(0.2017,0.2430)" font-size="100" fill="#111">CD19</text><use href="#t65" x="0.30"/>
<text id="t66" transform="translate(1354.33,1616.15) scale(0.2017,0.2430)" font-size="100" fill="#111">CD4</text><use href="#t66" x="0.30"/>
<text id="t67" transform="translate(1353.70,1635.35) scale(0.2017,0.2430)" font-size="100" fill="#111">PSMB10</text><use href="#t67" x="0.30"/>
<text id="t68" transform="translate(1353.70,1654.55) scale(0.2017,0.2430)" font-size="100" fill="#111">PSMB5</text><use href="#t68" x="0.30"/>
<text id="t69" transform="translate(1354.33,1673.75) scale(0.2017,0.2430)" font-size="100" fill="#111">CD200</text><use href="#t69" x="0.30"/>
<text id="t70" transform="translate(1354.90,1692.95) scale(0.2017,0.2430)" font-size="100" fill="#111">TBX21</text><use href="#t70" x="0.30"/>
<text id="t71" transform="translate(1354.33,1712.16) scale(0.2017,0.2430)" font-size="100" fill="#111">CD40</text><use href="#t71" x="0.30"/>
<text id="t72" transform="translate(1353.70,1731.36) scale(0.2017,0.2430)" font-size="100" fill="#111">HLA−DRB1</text><use href="#t72" x="0.30"/>
<text id="t73" transform="translate(1353.70,1750.56) scale(0.2017,0.2430)" font-size="100" fill="#111">HLA−DPB1</text><use href="#t73" x="0.30"/>
<text id="t74" transform="translate(1353.70,1769.76) scale(0.2017,0.2430)" font-size="100" fill="#111">B2M</text><use href="#t74" x="0.30"/>
<text id="t75" transform="translate(1354.90,1788.96) scale(0.2017,0.2430)" font-size="100" fill="#111">TGFB1</text><use href="#t75" x="0.30"/>
<text id="t76" transform="translate(1353.70,1808.16) scale(0.2017,0.2430)" font-size="100" fill="#111">HLA−B</text><use href="#t76" x="0.30"/>
<text id="t77" transform="translate(1353.49,1827.36) scale(0.2017,0.2430)" font-size="100" fill="#111">IFNG</text><use href="#t77" x="0.30"/>
<text id="t78" transform="translate(1354.33,1846.57) scale(0.2017,0.2430)" font-size="100" fill="#111">CD3G</text><use href="#t78" x="0.30"/>
<text id="t79" transform="translate(1354.33,1865.77) scale(0.2017,0.2430)" font-size="100" fill="#111">CD8B</text><use href="#t79" x="0.30"/>
<text id="t80" transform="translate(1353.70,1884.97) scale(0.2017,0.2430)" font-size="100" fill="#111">HLA−C</text><use href="#t80" x="0.30"/>
<text id="t81" transform="translate(1353.70,1904.17) scale(0.2017,0.2430)" font-size="100" fill="#111">HLA−DQB1</text><use href="#t81" x="0.30"/>
<text id="t82" transform="translate(1353.70,1923.37) scale(0.2017,0.2430)" font-size="100" fill="#111">HLA−A</text><use href="#t82" x="0.30"/>
<text id="t83" transform="translate(1353.49,1942.57) scale(0.2017,0.2430)" font-size="100" fill="#111">ITGAM</text><use href="#t83" x="0.30"/>
<text id="t84" transform="translate(1353.70,1961.77) scale(0.2017,0.2430)" font-size="100" fill="#111">HLA−DRB6</text><use href="#t84" x="0.30"/>
<text id="t85" transform="translate(1354.90,1980.98) scale(0.2017,0.2430)" font-size="100" fill="#111">TNFSF4</text><use href="#t85" x="0.30"/>
<text id="t86" transform="translate(1354.33,2000.18) scale(0.2017,0.2430)" font-size="100" fill="#111">CD163</text><use href="#t86" x="0.30"/>
<text id="t87" transform="translate(1353.49,2019.38) scale(0.2017,0.2430)" font-size="100" fill="#111">IL12A</text><use href="#t87" x="0.30"/>
<text id="t88" transform="translate(1353.49,2038.58) scale(0.2017,0.2430)" font-size="100" fill="#111">ITGAX</text><use href="#t88" x="0.30"/>
<text id="t89" transform="translate(1354.33,2057.78) scale(0.2017,0.2430)" font-size="100" fill="#111">CD3D</text><use href="#t89" x="0.30"/>
<text id="t90" transform="translate(1356.90,2076.98) scale(0.2017,0.2430)" font-size="100" fill="#111">LAG3</text><use href="#t90" x="0.30"/>
<text id="t91" transform="translate(1353.70,2096.18) scale(0.2017,0.2430)" font-size="100" fill="#111">PDCD1</text><use href="#t91" x="0.30"/>
<text id="t92" transform="translate(1354.33,2115.39) scale(0.2017,0.2430)" font-size="100" fill="#111">CCR5</text><use href="#t92" x="0.30"/>
<text id="t93" transform="translate(1353.49,2134.59) scale(0.2017,0.2430)" font-size="100" fill="#111">ITGB3</text><use href="#t93" x="0.30"/>
<text id="t94" transform="translate(1354.33,2153.79) scale(0.2017,0.2430)" font-size="100" fill="#111">CD8A</text><use href="#t94" x="0.30"/>
<text id="t95" transform="translate(1354.90,2172.99) scale(0.2017,0.2430)" font-size="100" fill="#111">TNFSF9</text><use href="#t95" x="0.30"/>
<text id="t96" transform="translate(1354.33,2192.19) scale(0.2017,0.2430)" font-size="100" fill="#111">CD27</text><use href="#t96" x="0.30"/>
<text id="t97" transform="translate(1353.70,2211.39) scale(0.2017,0.2430)" font-size="100" fill="#111">HLA−DQA1</text><use href="#t97" x="0.30"/>
<text id="t98" transform="translate(1353.70,2230.59) scale(0.2017,0.2430)" font-size="100" fill="#111">HLA−DRA</text><use href="#t98" x="0.30"/>
<text id="t99" transform="translate(1354.33,2249.80) scale(0.2017,0.2430)" font-size="100" fill="#111">CD28</text><use href="#t99" x="0.30"/>
<text id="t100" transform="translate(1354.33,2269.00) scale(0.2017,0.2430)" font-size="100" fill="#111">CD3E</text><use href="#t100" x="0.30"/>
<text id="t101" transform="translate(1353.70,2288.20) scale(0.2017,0.2430)" font-size="100" fill="#111">NCAM1</text><use href="#t101" x="0.30"/>
<text id="t102" transform="translate(1354.33,2307.40) scale(0.2017,0.2430)" font-size="100" fill="#111">CD276</text><use href="#t102" x="0.30"/>
<text id="t103" transform="translate(1353.70,2326.60) scale(0.2017,0.2430)" font-size="100" dx="0 0 -16.4" fill="#111">FOXP3</text><use href="#t103" x="0.30"/>
<text id="t104" transform="translate(556.14,843.10) scale(0.2282,0.3366)" font-size="100" fill="#111">Correlation coefficients with frozen</text><use href="#t104" x="0.60"/>
<path d="M316.1 925.4V852.3H931.0V872.5M726.2 925.4V872.5H1135.9V925.4" stroke="#111" stroke-width="1.6" fill="none"/>
<text transform="translate(164.96,2363.70) scale(0.5407,0.3808)" font-size="100" fill="#111">FFPE TWIST</text>
<text transform="translate(555.26,2363.70) scale(0.5407,0.3808)" font-size="100" fill="#111">FFPE Agilent</text>
<text transform="translate(1027.46,2367.00) scale(0.5416,0.3823)" font-size="100" fill="#111">FFPE IDT</text>
<path d="M59.8 1174.3V1722.2M59.8 1174.3H99.5M99.5 1021.5V1326.5M99.5 1021.5H108.6M111 949.7H108.6V1092H111M99.5 1326.5H106.2M111 1261.8H106.2V1391.3H111M59.8 1722.2H92.2M92.2 1544.4V1900.4M92.2 1544.4H105.6M111 1511.7H105.6V1577H111M92.2 1900.4H104.3M104.3 1781.5V2019.3M104.3 1781.5H107.5M111 1734.8H107.5V1828.4H111M104.3 2019.3H107.2M107.2 1927.6V2187.6H111" stroke="#111" stroke-width="1.4" fill="none"/>
<path d="M109.9 940V2200" stroke="#222" stroke-width="1.1" fill="none" opacity="0.6"/>
<defs><linearGradient id="cb" x1="0" y1="1" x2="0" y2="0">
<stop offset="0.000" stop-color="#3d3f99"/>
<stop offset="0.027" stop-color="#3f4ba0"/>
<stop offset="0.052" stop-color="#4058a7"/>
<stop offset="0.078" stop-color="#4266ae"/>
<stop offset="0.104" stop-color="#4575b4"/>
<stop offset="0.130" stop-color="#5282bb"/>
<stop offset="0.162" stop-color="#6293c5"/>
<stop offset="0.194" stop-color="#72a6ce"/>
<stop offset="0.226" stop-color="#82b6d7"/>
<stop offset="0.258" stop-color="#92c4dc"/>
<stop offset="0.298" stop-color="#a8d3e4"/>
<stop offset="0.330" stop-color="#b9dceb"/>
<stop offset="0.368" stop-color="#cfe5ee"/>
<stop offset="0.400" stop-color="#deeef3"/>
<stop offset="0.426" stop-color="#e7f2e6"/>
<stop offset="0.458" stop-color="#f0f3d6"/>
<stop offset="0.490" stop-color="#f7f3c3"/>
<stop offset="0.514" stop-color="#f8f3b8"/>
<stop offset="0.546" stop-color="#f7eaa2"/>
<stop offset="0.578" stop-color="#f8e095"/>
<stop offset="0.610" stop-color="#f8d688"/>
<stop offset="0.643" stop-color="#f9c67c"/>
<stop offset="0.675" stop-color="#f7b66d"/>
<stop offset="0.707" stop-color="#f6a45e"/>
<stop offset="0.745" stop-color="#f38a52"/>
<stop offset="0.780" stop-color="#ee7748"/>
<stop offset="0.800" stop-color="#ea6940"/>
<stop offset="0.820" stop-color="#e55b39"/>
<stop offset="0.840" stop-color="#e04c33"/>
<stop offset="0.865" stop-color="#db3d28"/>
<stop offset="0.890" stop-color="#d42c25"/>
<stop offset="0.907" stop-color="#ce2124"/>
<stop offset="0.930" stop-color="#c01c22"/>
<stop offset="0.960" stop-color="#b41c24"/>
<stop offset="1.000" stop-color="#a31a27"/>
</linearGradient></defs>
<rect x="1481.4" y="1577.0" width="14.6" height="257.5" fill="url(#cb)"/>
<text id="t105" transform="translate(1501.66,1614.80) scale(0.2017,0.2430)" font-size="100" fill="#111">0.8</text><use href="#t105" x="0.30"/>
<text id="t106" transform="translate(1501.66,1650.60) scale(0.2017,0.2430)" font-size="100" fill="#111">0.6</text><use href="#t106" x="0.30"/>
<text id="t107" transform="translate(1501.66,1686.30) scale(0.2017,0.2430)" font-size="100" fill="#111">0.4</text><use href="#t107" x="0.30"/>
<text id="t108" transform="translate(1501.66,1722.00) scale(0.2017,0.2430)" font-size="100" fill="#111">0.2</text><use href="#t108" x="0.30"/>
<text id="t109" transform="translate(1501.66,1757.70) scale(0.2017,0.2430)" font-size="100" fill="#111">0</text><use href="#t109" x="0.30"/>
<text id="t110" transform="translate(1501.46,1793.40) scale(0.2017,0.2430)" font-size="100" fill="#111">−0.2</text><use href="#t110" x="0.30"/>
<text id="t111" transform="translate(1501.46,1829.10) scale(0.2017,0.2430)" font-size="100" fill="#111">−0.4</text><use href="#t111" x="0.30"/>
</g>
<g id="boxplot">
<line x1="1534.1" y1="916.9" x2="1534.1" y2="1191.3" stroke="#4a4a4a" stroke-width="1.4"/>
<line x1="1530.8" y1="965.6" x2="1534.1" y2="965.6" stroke="#4a4a4a" stroke-width="1.2"/>
<line x1="1530.8" y1="1037.5" x2="1534.1" y2="1037.5" stroke="#4a4a4a" stroke-width="1.2"/>
<line x1="1530.8" y1="1109.5" x2="1534.1" y2="1109.5" stroke="#4a4a4a" stroke-width="1.2"/>
<line x1="1530.8" y1="1181.7" x2="1534.1" y2="1181.7" stroke="#4a4a4a" stroke-width="1.2"/>
<text transform="translate(1526.70,985.60) rotate(-90) scale(0.1577,0.1604)" font-size="100" fill="#4d4d4d">1.0</text>
<text transform="translate(1526.70,1058.24) rotate(-90) scale(0.1627,0.1604)" font-size="100" fill="#4d4d4d">0.5</text>
<text transform="translate(1526.70,1129.72) rotate(-90) scale(0.1593,0.1604)" font-size="100" fill="#4d4d4d">0.0</text>
<text transform="translate(1526.70,1211.08) rotate(-90) scale(0.1583,0.1604)" font-size="100" fill="#4d4d4d">−0.5</text>
<text transform="translate(1503.10,1169.89) rotate(-90) scale(0.2747,0.2950)" font-size="100" fill="#111">Correlation Scores</text>
<line x1="1607.1" y1="965.5" x2="1607.1" y2="1085.5" stroke="#3a3a3a" stroke-width="1.4"/>
<line x1="1728.9" y1="976.0" x2="1728.9" y2="1105.6" stroke="#3a3a3a" stroke-width="1.4"/>
<line x1="1851.0" y1="971.4" x2="1851.0" y2="1082.2" stroke="#3a3a3a" stroke-width="1.4"/>
<rect x="1561.4" y="1017.7" width="91.6" height="34.3" fill="#67c1a4"/>
<rect x="1561.4" y="1017.7" width="91.6" height="34.3" fill="none" stroke="#3a3a3a" stroke-width="1.5"/>
<line x1="1561.4" y1="1030.8" x2="1653.0" y2="1030.8" stroke="#333" stroke-width="2.6"/>
<rect x="1683.5" y="1011.5" width="91.3" height="41.8" fill="#fbd630"/>
<rect x="1683.5" y="1011.5" width="91.3" height="41.8" fill="none" stroke="#3a3a3a" stroke-width="1.5"/>
<line x1="1683.5" y1="1028.2" x2="1774.8" y2="1028.2" stroke="#333" stroke-width="2.6"/>
<rect x="1805.3" y="993.2" width="91.3" height="38.7" fill="#8b9dcb"/>
<path d="M1896.6 993.2H1805.3V1031.9H1896.6" fill="none" stroke="#3a3a3a" stroke-width="1.5"/>
<line x1="1805.3" y1="1010.7" x2="1896.6" y2="1010.7" stroke="#333" stroke-width="2.6"/>
<path d="M1607.1 972V965.5H1728.9V972.3M1607.1 957.3V951.4H1851.0V957.3M1728.9 935.6V929.4H1851.0V935.6" fill="none" stroke="#3a3a3a" stroke-width="1.1"/>
<text transform="translate(1657.30,962.70) scale(0.2108,0.2063)" font-size="100" fill="#111">ns</text>
<text transform="translate(1716.01,948.50) scale(0.2029,0.1962)" font-size="100" fill="#111">0.001</text>
<text transform="translate(1774.60,926.80) scale(0.2037,0.1991)" font-size="100" fill="#111">0.0034</text>
<text transform="translate(1811.25,1163.80) scale(0.1865,0.1905)" font-size="100" fill="#111">Capture method</text>
<line x1="1826.2" y1="1177.6" x2="1826.2" y2="1201.1" stroke="#3a3a3a" stroke-width="1.2"/>
<rect x="1815.1" y="1182.4" width="22.5" height="13.9" fill="#67c1a4" stroke="#3a3a3a" stroke-width="1.2"/>
<line x1="1815.1" y1="1189.7" x2="1837.6" y2="1189.7" stroke="#3a3a3a" stroke-width="1.3"/>
<line x1="1826.2" y1="1206.6" x2="1826.2" y2="1230.3" stroke="#3a3a3a" stroke-width="1.2"/>
<rect x="1815.1" y="1211.5" width="22.5" height="14.1" fill="#fbd630" stroke="#3a3a3a" stroke-width="1.2"/>
<line x1="1815.1" y1="1218.7" x2="1837.6" y2="1218.7" stroke="#3a3a3a" stroke-width="1.3"/>
<line x1="1826.2" y1="1236.0" x2="1826.2" y2="1259.3" stroke="#3a3a3a" stroke-width="1.2"/>
<rect x="1815.1" y="1240.9" width="22.5" height="14.1" fill="#8b9dcb" stroke="#3a3a3a" stroke-width="1.2"/>
<line x1="1815.1" y1="1247.9" x2="1837.6" y2="1247.9" stroke="#3a3a3a" stroke-width="1.3"/>
<text transform="translate(1849.34,1194.90) scale(0.1653,0.1686)" font-size="100" fill="#111">FFPE Agilent</text>
<text transform="translate(1849.34,1224.30) scale(0.1662,0.1686)" font-size="100" fill="#111">FFPE IDT</text>
<text transform="translate(1849.34,1253.30) scale(0.1660,0.1686)" font-size="100" fill="#111">FFPE TWIST</text>
</g>
</svg>
</body>
</html>
